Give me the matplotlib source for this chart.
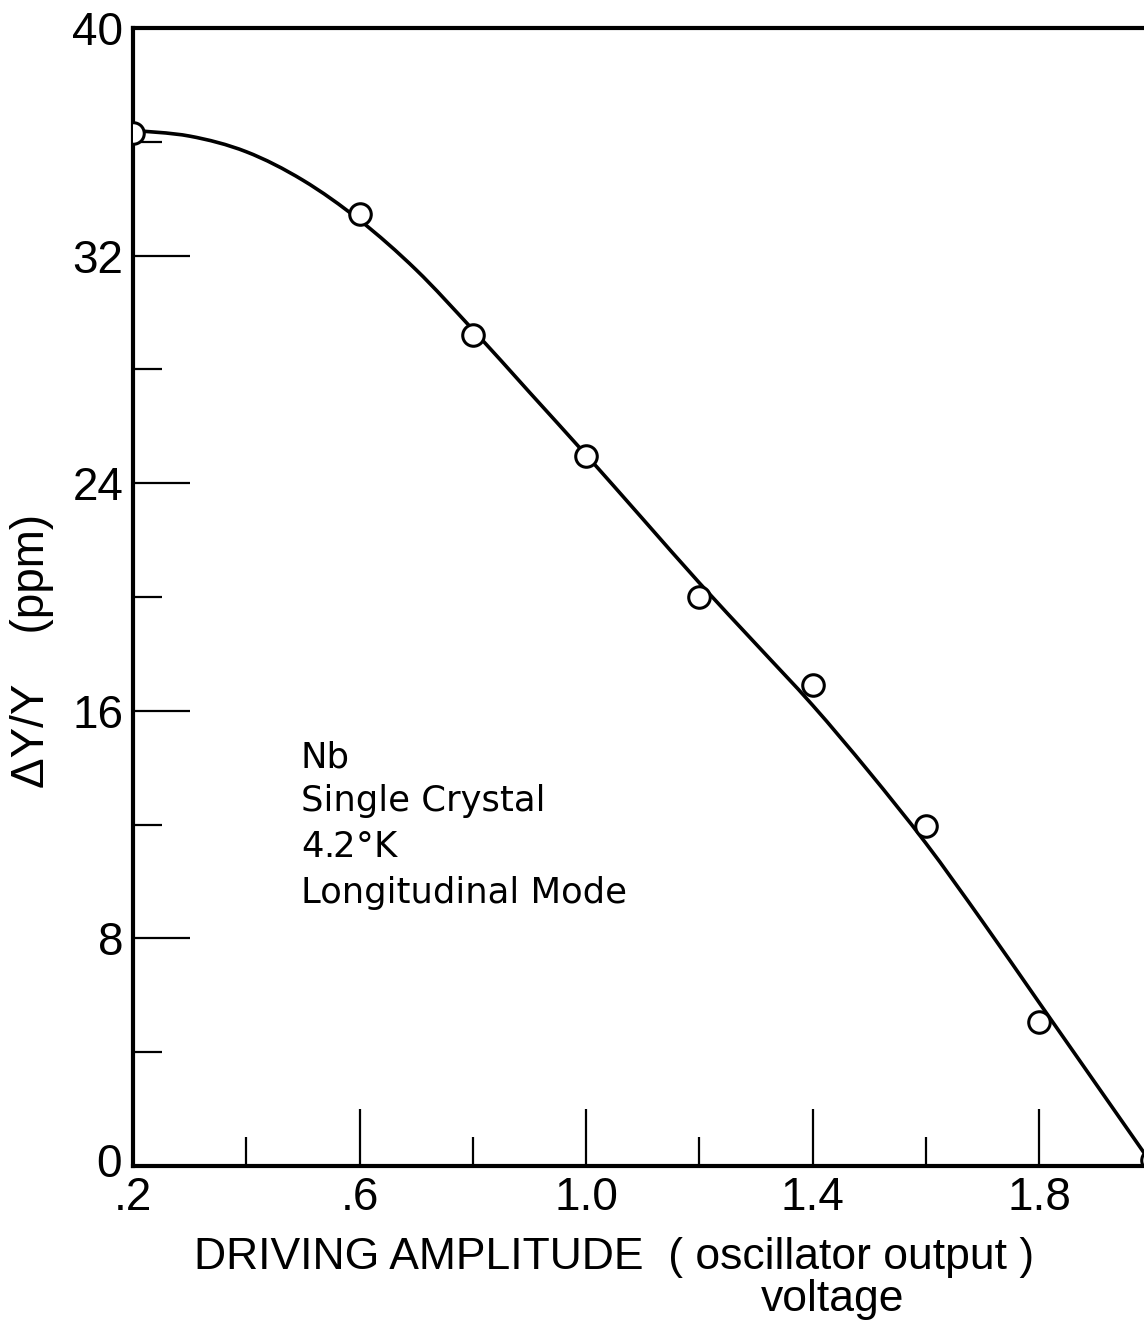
import matplotlib
matplotlib.use("Agg")
import matplotlib.pyplot as plt
from matplotlib.path import Path
from matplotlib.patches import PathPatch
import matplotlib.transforms as mtransforms
import numpy as np

# measured points
x_pts = [0.2, 0.6, 0.8, 1.0, 1.2, 1.4, 1.6, 1.8, 2.0]
y_pts = [36.3, 33.45, 29.2, 24.95, 20.0, 16.9, 11.95, 5.05, 0.2]

# fitted smooth curve
x_curve = [0.2, 0.3, 0.4, 0.5, 0.6, 0.7, 0.8, 0.9, 1.0, 1.1, 1.2, 1.3,
           1.4, 1.5, 1.6, 1.7, 1.8, 1.9, 2.0]
y_curve = [36.4, 36.2, 35.65, 34.65, 33.25, 31.5, 29.4, 27.2, 25.0, 22.75,
           20.5, 18.35, 16.2, 13.85, 11.35, 8.6, 5.75, 2.9, 0.05]

x_major = [0.2, 0.6, 1.0, 1.4, 1.8]
x_major_labels = [".2", ".6", "1.0", "1.4", "1.8"]
x_minor = [0.4, 0.8, 1.2, 1.6]
y_major = [0, 8, 16, 24, 32, 40]
y_major_labels = ["0", "8", "16", "24", "32", "40"]
y_minor = [4, 12, 20, 28, 36]

annotation_lines = ["Nb", "Single Crystal", "4.2$\\degree$K", "Longitudinal Mode"]

W, H = 1144, 1324
fig = plt.figure(figsize=(W / 100, H / 100), dpi=100)
left, right_px, top_px, bottom_px = 133, 1144, 28, 1166
ax = fig.add_axes([left / W, 1 - bottom_px / H, (right_px - left) / W,
                   (bottom_px - top_px) / H])

# smooth curve as Bezier path (Catmull-Rom control points) through read values
P = np.column_stack([x_curve, y_curve])
verts = [tuple(P[0])]
codes = [Path.MOVETO]
n = len(P)
for i in range(n - 1):
    p0 = P[i - 1] if i > 0 else P[i]
    p1 = P[i]
    p2 = P[i + 1]
    p3 = P[i + 2] if i + 2 < n else P[i + 1]
    c1 = p1 + (p2 - p0) / 6.0
    c2 = p2 - (p3 - p1) / 6.0
    verts += [tuple(c1), tuple(c2), tuple(p2)]
    codes += [Path.CURVE4] * 3
ax.add_patch(PathPatch(Path(verts, codes), facecolor="none",
                       edgecolor="black", lw=2.6, zorder=2,
                       transform=ax.transData))

ax.plot(x_pts, y_pts, linestyle="none", marker="o", ms=15.5, mew=2.2,
        mfc="white", mec="black", zorder=3)

ax.set_xlim(0.2, 0.2 + (right_px - left) / 566.25)
ax.set_ylim(0, 40)

for s in ["left", "bottom", "top"]:
    ax.spines[s].set_linewidth(3)
ax.spines["right"].set_visible(False)

ax.set_xticks(x_major)
ax.set_xticklabels(x_major_labels)
ax.set_xticks(x_minor, minor=True)
ax.set_yticks(y_major)
ax.set_yticklabels(y_major_labels)
ax.set_yticks(y_minor, minor=True)

tickfont = "Liberation Sans"
ax.tick_params(axis="both", which="major", direction="in", length=41,
               width=1.6, labelsize=33, pad=6)
ax.tick_params(axis="both", which="minor", direction="in", length=21,
               width=1.6)
ax.tick_params(axis="x", which="major", pad=7)
ax.tick_params(axis="y", which="major", pad=7)
ax.tick_params(top=False, right=False, which="both")
for lab in ax.get_xticklabels() + ax.get_yticklabels():
    lab.set_fontfamily(tickfont)

# nudge the "0" label up slightly, as in the reference
zero_lab = ax.get_yticklabels()[0]
zero_lab.set_transform(zero_lab.get_transform() +
                       mtransforms.ScaledTranslation(-2 / 100, 6 / 100,
                                                     fig.dpi_scale_trans))

fig.text(614 / W, 1 - 1257 / H, "DRIVING AMPLITUDE  ( oscillator output )",
         fontsize=32, family=tickfont, ha="center", va="center")
fig.text(833 / W, 1 - 1300 / H, "voltage",
         fontsize=32, family=tickfont, ha="center", va="center")
fig.text(32 / W, 1 - 651 / H, "ΔY/Y    (ppm)", fontsize=33, family=tickfont,
         rotation=90, ha="center", va="center")

line_y = [757, 801, 847, 893]
for txt, yy in zip(annotation_lines, line_y):
    fig.text(301 / W, 1 - yy / H, txt, fontsize=25.5, family="DejaVu Sans",
             ha="left", va="center")

fig.savefig("out.png", dpi=100)
